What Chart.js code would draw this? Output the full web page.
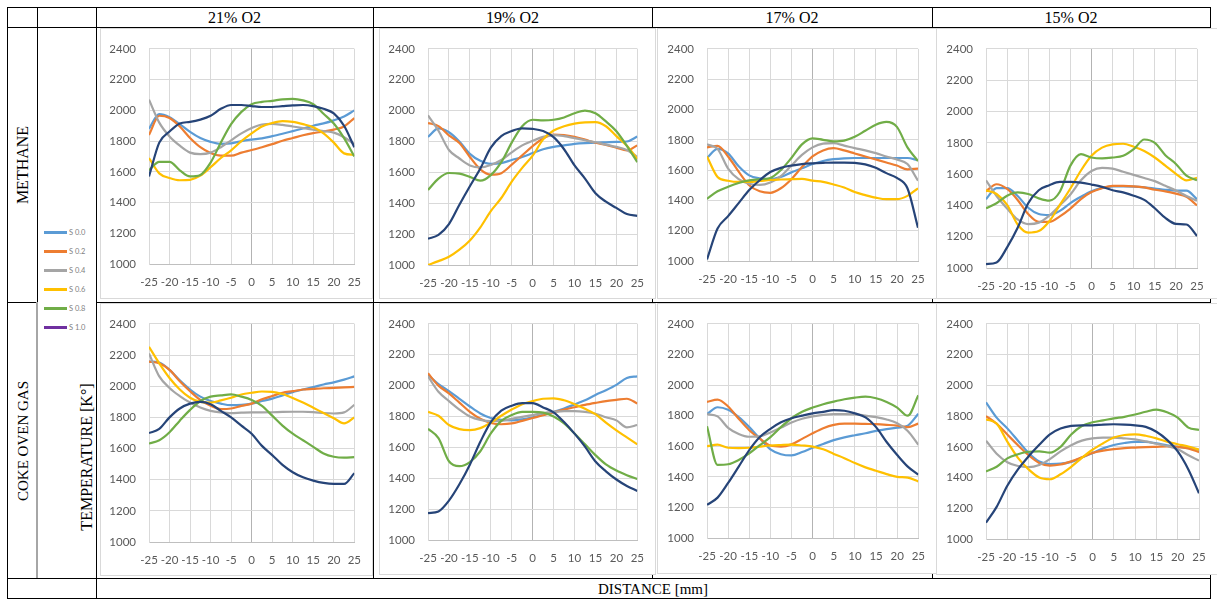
<!DOCTYPE html>
<html>
<head>
<meta charset="utf-8">
<script src="https://cdn.jsdelivr.net/npm/chart.js@4.4.1/dist/chart.umd.min.js"></script>
<style>
  html, body { margin: 0; padding: 0; background: #fff; }
  body { position: relative; width: 1217px; height: 599px; overflow: hidden;
         font-family: "Liberation Serif", "Times New Roman", serif; }
  .ln { position: absolute; background: #000; }
  .txt { position: absolute; color: #000; white-space: nowrap; transform: translate(-50%, -50%); }
  .vert { transform: translate(-50%, -50%) rotate(-90deg); }
  .frame { position: absolute; background: #fff; border: 1px solid #d9d9d9; box-sizing: border-box; }
  .frame canvas { position: absolute; left: 0; top: 0; }
  .leg { position: absolute; width: 50px; height: 10px; font-family: Lato, "Liberation Sans", sans-serif;
         font-size: 7.5px; color: #7f7f7f; }
  .leg i { position: absolute; left: 0; top: -1.5px; width: 23px; height: 3px; }
  .leg span { position: absolute; left: 25px; top: -5px; line-height: 10px; white-space: nowrap; }
</style>
</head>
<body>
<script>
// ---- data -----------------------------------------------------------------
const DIST = [-25, -22.5, -20, -17.5, -15, -12.5, -10, -7.5, -5, -2.5, 0,
              2.5, 5, 7.5, 10, 12.5, 15, 17.5, 20, 22.5, 25];
const X_TICKS = [-25, -20, -15, -10, -5, 0, 5, 10, 15, 20, 25];
const Y_TICKS = [1000, 1200, 1400, 1600, 1800, 2000, 2200, 2400];
const SERIES = ['S 0.0', 'S 0.2', 'S 0.4', 'S 0.6', 'S 0.8', 'S 1.0'];
const O2_LEVELS = ['21% O2', '19% O2', '17% O2', '15% O2'];
const FUELS = ['METHANE', 'COKE OVEN GAS'];

// temperature profiles [K], one row per swirl number S 0.0 ... S 1.0
const CH4_21 = [
  [1880,1975,1955,1910,1860,1820,1795,1782,1785,1800,1810,1818,1832,1848,1865,1882,1900,1915,1935,1960,2000],
  [1840,1965,1950,1895,1820,1760,1722,1705,1705,1725,1742,1760,1780,1802,1820,1838,1852,1862,1875,1895,1950],
  [2070,1920,1830,1770,1725,1715,1725,1760,1805,1850,1885,1908,1912,1905,1895,1885,1875,1865,1855,1825,1780],
  [1690,1590,1560,1545,1548,1575,1630,1690,1740,1800,1850,1895,1918,1930,1925,1910,1890,1850,1790,1720,1710],
  [1610,1665,1665,1610,1570,1580,1660,1790,1910,1990,2040,2055,2062,2072,2075,2065,2040,1978,1914,1819,1700],
  [1570,1790,1862,1915,1925,1940,1965,2010,2035,2035,2028,2022,2022,2027,2032,2035,2028,2010,1980,1900,1760]
];
const CH4_19 = [
  [1830,1885,1860,1800,1720,1675,1655,1660,1680,1700,1725,1750,1765,1775,1785,1790,1792,1795,1798,1800,1832],
  [1920,1900,1840,1790,1700,1620,1585,1595,1650,1710,1770,1820,1845,1842,1830,1812,1792,1778,1760,1742,1775],
  [1970,1870,1745,1690,1645,1632,1648,1680,1730,1775,1805,1830,1842,1835,1822,1808,1795,1780,1765,1745,1700],
  [1000,1025,1053,1099,1159,1244,1349,1434,1540,1629,1708,1814,1871,1899,1916,1924,1926,1899,1835,1772,1687],
  [1486,1560,1596,1592,1571,1546,1582,1666,1793,1899,1941,1937,1941,1956,1983,2000,1983,1930,1867,1772,1666],
  [1170,1195,1265,1390,1510,1625,1760,1835,1868,1885,1882,1868,1828,1750,1645,1560,1465,1410,1370,1330,1318]
];
const CH4_17 = [
  [1680,1740,1710,1625,1565,1545,1540,1555,1585,1612,1640,1660,1672,1678,1680,1680,1680,1680,1680,1680,1665],
  [1750,1760,1690,1590,1500,1460,1450,1480,1540,1620,1690,1730,1745,1730,1710,1690,1670,1650,1630,1605,1610],
  [1770,1740,1610,1540,1510,1502,1518,1560,1630,1700,1750,1775,1778,1762,1745,1730,1712,1690,1670,1640,1530],
  [1690,1555,1530,1522,1522,1528,1535,1538,1540,1542,1530,1522,1505,1485,1455,1435,1418,1408,1408,1430,1480],
  [1410,1460,1490,1515,1532,1540,1548,1600,1680,1770,1810,1800,1790,1795,1820,1860,1900,1918,1885,1750,1660],
  [1010,1214,1296,1382,1468,1533,1587,1615,1630,1640,1645,1648,1650,1650,1648,1638,1615,1580,1548,1480,1220]
];
const CH4_15 = [
  [1440,1510,1510,1460,1385,1345,1338,1365,1415,1455,1490,1512,1522,1522,1520,1515,1508,1500,1495,1495,1440],
  [1490,1535,1505,1435,1345,1295,1295,1330,1380,1440,1485,1510,1525,1525,1522,1515,1500,1490,1475,1455,1400],
  [1560,1460,1380,1310,1280,1290,1335,1400,1470,1560,1620,1640,1635,1615,1595,1575,1555,1525,1495,1460,1430],
  [1497,1473,1403,1278,1226,1236,1299,1403,1508,1623,1717,1769,1790,1794,1775,1748,1706,1654,1602,1560,1577],
  [1382,1414,1462,1483,1473,1445,1430,1487,1654,1727,1706,1700,1706,1717,1759,1821,1800,1721,1665,1590,1560],
  [1025,1035,1132,1257,1414,1497,1529,1550,1550,1546,1533,1518,1497,1483,1462,1435,1382,1320,1282,1278,1205]
];
const COG_21 = [
  [2158,2152,2105,2038,1979,1933,1905,1888,1878,1880,1888,1905,1920,1941,1962,1979,1994,2011,2025,2042,2063],
  [2158,2147,2105,2032,1968,1912,1874,1853,1857,1874,1888,1916,1937,1958,1968,1979,1983,1987,1989,1992,1996],
  [2210,2063,1989,1937,1895,1863,1842,1832,1827,1830,1832,1832,1833,1835,1836,1836,1834,1828,1825,1832,1880],
  [2253,2147,2053,1979,1926,1899,1895,1909,1926,1947,1958,1966,1964,1950,1925,1895,1862,1828,1795,1762,1800],
  [1632,1653,1705,1779,1848,1905,1933,1941,1947,1933,1912,1874,1811,1747,1695,1653,1611,1568,1547,1541,1545],
  [1699,1726,1800,1857,1888,1899,1884,1842,1800,1747,1695,1617,1558,1495,1448,1415,1394,1379,1373,1373,1442]
];
const COG_19 = [
  [2070,2010,1965,1915,1865,1820,1790,1778,1775,1782,1795,1812,1830,1852,1878,1905,1940,1970,2005,2050,2060],
  [2080,2000,1950,1890,1830,1785,1758,1750,1755,1772,1790,1808,1828,1845,1860,1875,1888,1900,1908,1915,1885],
  [2060,1960,1900,1845,1800,1778,1770,1772,1785,1798,1810,1822,1830,1835,1835,1830,1818,1795,1775,1730,1745],
  [1830,1805,1745,1718,1712,1725,1760,1805,1845,1880,1900,1915,1918,1905,1880,1850,1815,1760,1710,1665,1620],
  [1720,1660,1510,1478,1505,1575,1690,1772,1810,1830,1830,1825,1800,1755,1690,1620,1550,1490,1450,1420,1395],
  [1174,1185,1255,1361,1488,1636,1764,1838,1870,1887,1887,1859,1827,1764,1689,1605,1509,1445,1392,1350,1318]
];
const COG_17 = [
  [1810,1855,1838,1790,1725,1650,1580,1548,1540,1562,1590,1615,1640,1658,1672,1685,1700,1712,1722,1735,1812],
  [1890,1905,1860,1780,1705,1650,1605,1598,1612,1648,1685,1718,1740,1748,1748,1746,1744,1740,1735,1725,1748],
  [1810,1795,1720,1680,1662,1665,1690,1722,1755,1780,1795,1805,1810,1810,1808,1800,1790,1775,1750,1700,1610],
  [1600,1610,1590,1588,1590,1598,1605,1608,1610,1605,1598,1580,1550,1522,1490,1462,1440,1418,1400,1395,1370],
  [1731,1478,1482,1510,1553,1607,1660,1725,1783,1825,1853,1875,1892,1907,1918,1924,1914,1890,1853,1800,1933],
  [1217,1264,1360,1467,1575,1660,1714,1757,1783,1800,1815,1825,1836,1832,1815,1789,1725,1628,1543,1467,1414]
];
const COG_15 = [
  [1890,1790,1720,1640,1560,1505,1488,1490,1502,1530,1560,1590,1612,1625,1632,1632,1622,1610,1600,1592,1580],
  [1800,1750,1680,1610,1545,1495,1478,1485,1505,1532,1560,1575,1585,1592,1595,1598,1600,1602,1600,1590,1565],
  [1640,1555,1500,1475,1468,1482,1520,1570,1610,1640,1655,1660,1660,1655,1648,1635,1620,1605,1585,1545,1510],
  [1779,1751,1634,1528,1453,1400,1389,1421,1470,1528,1581,1623,1660,1677,1681,1672,1655,1634,1617,1602,1581],
  [1440,1470,1525,1552,1568,1570,1562,1600,1680,1735,1760,1772,1785,1795,1810,1828,1842,1825,1790,1725,1710],
  [1106,1209,1347,1453,1538,1613,1681,1719,1736,1740,1740,1745,1747,1745,1740,1730,1698,1645,1570,1453,1298]
];

// ---- styling ----------------------------------------------------------------
const LINE_COLORS = ['#5B9BD5', '#ED7D31', '#A5A5A5', '#FFC000', '#70AD47', '#264478'];
const LEGEND_COLORS = ['#5B9BD5', '#ED7D31', '#A5A5A5', '#FFC000', '#70AD47', '#7030A0'];
const GRID = '#d9d9d9', ZERO_LINE = '#b3b3b3', TICK_COLOR = '#595959';
const Y_AXIS_W = 40, X_AXIS_H = 30;

// panel frames and plot rectangles (page pixels)
const PANELS = [
  { rows: CH4_21, frame: [100, 28, 273, 271], plot: [149, 43, 362, 264] },
  { rows: CH4_19, frame: [379, 28, 277, 271], plot: [428, 44, 642, 265] },
  { rows: CH4_17, frame: [657, 28, 280, 271], plot: [707, 44, 918, 261] },
  { rows: CH4_15, frame: [936, 28, 282, 271], plot: [986, 44, 1197, 268] },
  { rows: COG_21, frame: [100, 303, 273, 273], plot: [149, 320, 362, 542] },
  { rows: COG_19, frame: [379, 303, 277, 272], plot: [428, 320, 640, 540] },
  { rows: COG_17, frame: [657, 303, 280, 271], plot: [707, 320, 920, 538] },
  { rows: COG_15, frame: [936, 303, 282, 272], plot: [986, 320, 1199, 539] }
];

// ---- table frame -----------------------------------------------------------
function line(x, y, w, h, color) {
  const d = document.createElement('div');
  d.className = 'ln';
  d.style.cssText = `left:${x}px;top:${y}px;width:${w}px;height:${h}px;` + (color ? `background:${color};` : '');
  document.body.appendChild(d);
}
function text(str, cx, cy, size, vertical) {
  const d = document.createElement('div');
  d.className = 'txt' + (vertical ? ' vert' : '');
  d.style.cssText = `left:${cx}px;top:${cy}px;font-size:${size}px;`;
  d.textContent = str;
  document.body.appendChild(d);
}

const COLS = [7, 37, 96, 373, 652, 932, 1210];
// horizontal rules
line(7, 7, 1204, 1); line(7, 27, 1204, 1);
line(7, 302, 30, 1); line(96, 302, 1114, 1);
line(7, 578, 1204, 1); line(7, 598, 1204, 1);
// vertical rules
line(7, 7, 1, 592); line(37, 7, 1, 295); line(36, 302, 2, 276, '#a6a6a6');
line(96, 7, 1, 592); line(373, 7, 1, 571); line(652, 7, 1, 571);
line(932, 7, 1, 571); line(1210, 7, 1, 592);

O2_LEVELS.forEach((t, i) => text(t, (COLS[i + 3] + COLS[i + 2]) / 2, 17.5, 16));
text(FUELS[0], 23, 165, 16, true);
text(FUELS[1], 23, 441, 15, true);
text('TEMPERATURE [K°]', 87, 457, 16, true);
text('DISTANCE [mm]', 653, 589, 15);

// legend
SERIES.forEach((name, i) => {
  const d = document.createElement('div');
  d.className = 'leg';
  d.style.left = '44px';
  d.style.top = (232.5 + i * 19) + 'px';
  d.innerHTML = `<i style="background:${LEGEND_COLORS[i]}"></i><span>${name}</span>`;
  document.body.appendChild(d);
});

// ---- charts ----------------------------------------------------------------
Chart.defaults.font.family = 'Lato, "Liberation Sans", sans-serif';

function buildPanel(p) {
  const [fx, fy, fw, fh] = p.frame;
  const [pl, pt, pr, pb] = p.plot;
  const box = document.createElement('div');
  box.className = 'frame';
  box.style.cssText = `left:${fx}px;top:${fy}px;width:${fw}px;height:${fh}px;`;
  const cv = document.createElement('canvas');
  const cw = fw - 2, ch = fh - 2;
  cv.width = cw; cv.height = ch;
  cv.style.width = cw + 'px'; cv.style.height = ch + 'px';
  box.appendChild(cv);
  document.body.appendChild(box);

  const ox = fx + 1, oy = fy + 1;
  const padding = {
    left: pl - ox - Y_AXIS_W,
    top: pt - oy,
    right: ox + cw - pr,
    bottom: oy + ch - pb - X_AXIS_H
  };

  new Chart(cv, {
    type: 'line',
    data: {
      datasets: p.rows.map((vals, i) => ({
        label: SERIES[i],
        data: DIST.map((x, j) => ({ x: x, y: vals[j] })),
        borderColor: LINE_COLORS[i],
        backgroundColor: LINE_COLORS[i],
        borderWidth: 2.2,
        pointRadius: 0,
        cubicInterpolationMode: 'monotone',
        fill: false,
        order: SERIES.length - i
      }))
    },
    options: {
      responsive: false,
      animation: false,
      devicePixelRatio: 1,
      layout: { padding: padding },
      plugins: { legend: { display: false }, tooltip: { enabled: false } },
      scales: {
        x: {
          type: 'linear', min: -25, max: 25,
          afterBuildTicks: s => { s.ticks = X_TICKS.map(v => ({ value: v })); },
          afterFit: s => { s.height = X_AXIS_H; },
          grid: { color: c => (c.tick && c.tick.value === 0 ? ZERO_LINE : GRID), drawTicks: false },
          border: { color: '#bfbfbf' },
          ticks: { color: TICK_COLOR, font: { size: 11.5 }, padding: 11, maxRotation: 0,
                   autoSkip: false, callback: v => String(v) }
        },
        y: {
          type: 'linear', min: 1000, max: 2400,
          afterBuildTicks: s => { s.ticks = Y_TICKS.map(v => ({ value: v })); },
          afterFit: s => { s.width = Y_AXIS_W; },
          grid: { color: GRID, drawTicks: false },
          border: { color: GRID },
          ticks: { color: TICK_COLOR, font: { size: 11.5 }, padding: 13,
                   autoSkip: false, callback: v => String(v) }
        }
      }
    }
  });
}

PANELS.forEach(buildPanel);
</script>
</body>
</html>
